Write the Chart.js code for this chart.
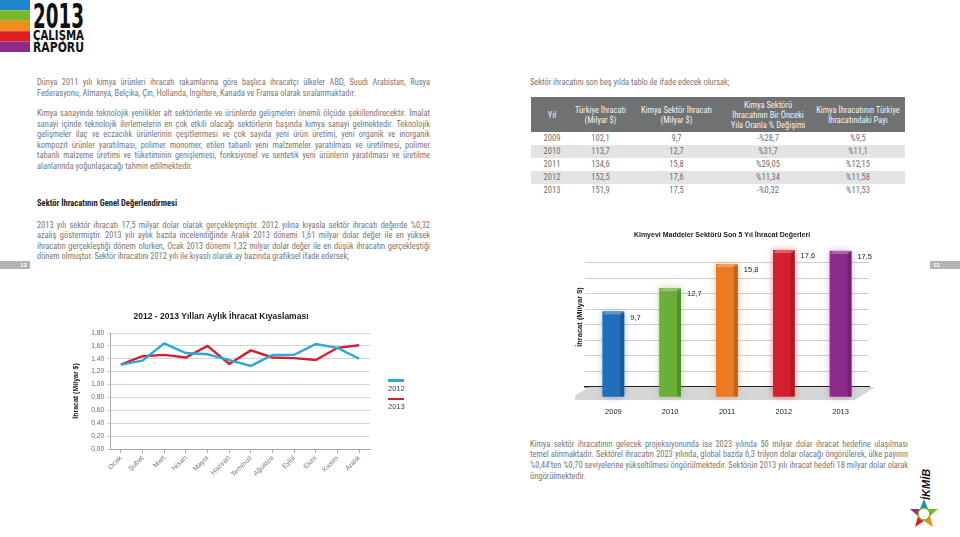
<!DOCTYPE html>
<html lang="tr">
<head>
<meta charset="utf-8">
<title>2013 Çalışma Raporu - Kimya</title>
<script src="https://cdn.jsdelivr.net/npm/chart.js@4.4.1/dist/chart.umd.min.js"></script>
<style>
  html, body { margin: 0; padding: 0; background: #fff; }
  body { width: 960px; height: 537px; position: relative; overflow: hidden;
         font-family: "Liberation Sans Narrow", "Roboto Condensed", "DejaVu Sans Condensed", sans-serif; }
  .abs { position: absolute; }
  .txt { font-size: 8.4px; line-height: 10.6px; color: #777; }
  .txt div { white-space: nowrap; text-align: justify; text-align-last: justify; }
  .txt div.last { text-align-last: left; }
  .heading { font-size: 8.5px; font-weight: bold; color: #222; }
  table { border-collapse: collapse; font-size: 8.5px; color: #707070; table-layout: fixed; }
  th { background: #707172; color: #f2f2f2; font-weight: normal; height: 35px; padding: 0; line-height: 10px; }
  td { text-align: center; height: 13px; padding: 0; line-height: 13px; }
  tr.alt td { background: #e4e4e4; }
  .tab { background: #b3b3b3; height: 8px; top: 261px; width: 30px; color: #fff;
         font: bold 6px "Liberation Sans", sans-serif; line-height: 8px; }
  .legend { font: 7.5px "Liberation Sans", sans-serif; color: #444; }
  .legend .ln { width: 16px; height: 2.5px; margin-bottom: 2px; }
  .legend .it { margin-bottom: 5px; }
</style>
</head>
<body>

<!-- header logo -->
<svg class="abs" style="left:0;top:0" width="90" height="56">
  <rect x="0" y="0" width="30" height="10.4" fill="#1f87c9"/>
  <rect x="0" y="10.4" width="30" height="10.4" fill="#79b829"/>
  <rect x="0" y="20.8" width="30" height="10.4" fill="#f18d1d"/>
  <rect x="0" y="31.2" width="30" height="10.4" fill="#df1b24"/>
  <rect x="0" y="41.6" width="30" height="10.4" fill="#8d2b8b"/>
  <g font-family="Liberation Sans Narrow, DejaVu Sans Condensed, sans-serif" font-weight="bold" fill="#111">
    <text x="33" y="28" font-size="34" textLength="51" lengthAdjust="spacingAndGlyphs">2013</text>
    <text x="33" y="40" font-size="14" textLength="51" lengthAdjust="spacingAndGlyphs">ÇALIŞMA</text>
    <text x="33" y="52" font-size="14" textLength="51" lengthAdjust="spacingAndGlyphs">RAPORU</text>
  </g>
</svg>

<!-- page tabs -->
<div class="abs tab" style="left:0;text-align:right"><span style="padding-right:3px">12</span></div>
<div class="abs tab" style="left:930px;text-align:left"><span style="padding-left:3px">13</span></div>

<!-- left column text -->
<div class="abs txt" style="left:37px;top:77.4px;width:393px">
  <div>Dünya 2011 yılı kimya ürünleri ihracatı rakamlarına göre başlıca ihracatçı ülkeler ABD, Suudi Arabistan, Rusya</div>
  <div class="last">Federasyonu, Almanya, Belçika, Çin, Hollanda, İngiltere, Kanada ve Fransa olarak sıralanmaktadır.</div>
</div>
<div class="abs txt" style="left:37px;top:108px;width:393px">
  <div>Kimya sanayinde teknolojik yenilikler alt sektörlerde ve ürünlerde gelişmeleri önemli ölçüde şekillendirecektir. İmalat</div>
  <div>sanayi içinde teknolojik ilerlemelerin en çok etkili olacağı sektörlerin başında kimya sanayi gelmektedir. Teknolojik</div>
  <div>gelişmeler ilaç ve eczacılık ürünlerinin çeşitlenmesi ve çok sayıda yeni ürün üretimi, yeni organik ve inorganik</div>
  <div>kompozit ürünler yaratılması, polimer monomer, etilen tabanlı yeni malzemeler yaratılması ve üretilmesi, polimer</div>
  <div>tabanlı malzeme üretimi ve tüketiminin genişlemesi, fonksiyonel ve sentetik yeni ürünlerin yaratılması ve üretilme</div>
  <div class="last">alanlarında yoğunlaşacağı tahmin edilmektedir.</div>
</div>
<div class="abs heading" style="left:37px;top:198px">Sektör İhracatının Genel Değerlendirmesi</div>
<div class="abs txt" style="left:37px;top:219.7px;width:393px">
  <div>2013 yılı sektör ihracatı 17,5 milyar dolar olarak gerçekleşmiştir. 2012 yılına kıyasla sektör ihracatı değerde %0,32</div>
  <div>azalış göstermiştir. 2013 yılı aylık bazda incelendiğinde Aralık 2013 dönemi 1,61 milyar dolar değer ile en yüksek</div>
  <div>ihracatın gerçekleştiği dönem olurken, Ocak 2013 dönemi 1,32 milyar dolar değer ile en düşük ihracatın gerçekleştiği</div>
  <div class="last">dönem olmuştur. Sektör ihracatını 2012 yılı ile kıyaslı olarak ay bazında grafiksel ifade edersek;</div>
</div>

<!-- right column text -->
<div class="abs txt" style="left:530px;top:77.4px;width:380px">
  <div class="last">Sektör ihracatını son beş yılda tablo ile ifade edecek olursak;</div>
</div>
<table class="abs" id="expTable" style="left:531px;top:97px;width:374px">
  <colgroup><col style="width:42px"><col style="width:55px"><col style="width:97px"><col style="width:86px"><col style="width:94px"></colgroup>
  <thead><tr>
    <th>Yıl</th>
    <th>Türkiye İhracatı<br>(Milyar $)</th>
    <th>Kimya Sektör İhracatı<br>(Milyar $)</th>
    <th>Kimya Sektörü<br>İhracatının Bir Önceki<br>Yıla Oranla % Değişimi</th>
    <th>Kimya İhracatının Türkiye<br>İhracatındaki Payı</th>
  </tr></thead>
  <tbody></tbody>
</table>
<div class="abs txt" style="left:530px;top:438.8px;width:378px">
  <div>Kimya sektör ihracatının gelecek projeksiyonunda ise 2023 yılında 50 milyar dolar ihracat hedefine ulaşılması</div>
  <div>temel alınmaktadır. Sektörel ihracatın 2023 yılında, global bazda 6,3 trilyon dolar olacağı öngörülerek, ülke payının</div>
  <div>%0,44'ten %0,70 seviyelerine yükseltilmesi öngörülmektedir. Sektörün 2013 yılı ihracat hedefi 18 milyar dolar olarak</div>
  <div class="last">öngörülmektedir.</div>
</div>

<!-- line chart -->
<div class="abs" style="left:72px;top:300px;width:342px;height:178px">
  <canvas id="monthlyChart"></canvas>
</div>
<div class="abs legend" id="monthlyLegend" style="left:388px;top:379px"></div>

<!-- bar chart -->
<div class="abs" style="left:575px;top:222px;width:310px;height:193px">
  <canvas id="yearlyChart"></canvas>
</div>

<!-- İKMİB logo -->
<svg class="abs" style="left:904px;top:466px" width="40" height="66">
  <text x="0" y="0" transform="translate(26,34) rotate(-90)" font-family="Liberation Sans, sans-serif"
        font-weight="bold" font-style="italic" font-size="11" fill="#111">İKMİB</text>
  <g transform="translate(20,48)">
    <polygon points="0,-15 4,-5 -4,-5" fill="#1f87c9"/>
    <polygon points="14,-5 6,2 4,-5" fill="#79b829"/>
    <polygon points="9,13 0,7 6,2" fill="#f18d1d"/>
    <polygon points="-9,13 -6,2 0,7" fill="#df1b24"/>
    <polygon points="-14,-5 -4,-5 -6,2" fill="#8d2b8b"/>
    <circle cx="0" cy="0" r="6" fill="#fff" stroke="#79b829" stroke-width="1.5"/>
  </g>
</svg>

<script>
const months = ['Ocak', 'Şubat', 'Mart', 'Nisan', 'Mayıs', 'Haziran', 'Temmuz', 'Ağustos', 'Eylül', 'Ekim', 'Kasım', 'Aralık'];
const exports2012 = [1.31, 1.37, 1.64, 1.49, 1.47, 1.38, 1.29, 1.46, 1.46, 1.63, 1.57, 1.40];
const exports2013 = [1.31, 1.44, 1.46, 1.42, 1.60, 1.32, 1.53, 1.42, 1.41, 1.38, 1.57, 1.61];

const years = ['2009', '2010', '2011', '2012', '2013'];
const turkeyExports = [102.1, 113.7, 134.6, 152.5, 151.9];
const sectorExports = [9.7, 12.7, 15.8, 17.6, 17.5];
const changePct = ['-%28,7', '%31,7', '%29,05', '%11,34', '-%0,32'];
const sharePct = ['%9,5', '%11,1', '%12,15', '%11,58', '%11,53'];

const barColors = ['#1f6fba', '#6cae3a', '#eb7a23', '#d3202f', '#8b2a8a'];
const barGlow = ['rgba(31,111,186,0.5)', 'rgba(108,174,58,0.5)', 'rgba(235,122,35,0.5)', 'rgba(211,32,47,0.5)', 'rgba(139,42,138,0.5)'];

function trNum(v, d) {
    return v.toFixed(d).replace('.', ',');
}

// table
const tbody = document.querySelector('#expTable tbody');
years.forEach((y, i) => {
    const tr = document.createElement('tr');
    if (i % 2 === 1) tr.className = 'alt';
    [y, trNum(turkeyExports[i], 1), trNum(sectorExports[i], 1), changePct[i], sharePct[i]].forEach(v => {
        const td = document.createElement('td');
        td.textContent = v;
        tr.appendChild(td);
    });
    tbody.appendChild(tr);
});

Chart.defaults.font.family = '"Liberation Sans", Arial, sans-serif';
Chart.defaults.animation = false;

// monthly line chart
const lineSets = [
    { label: '2012', data: exports2012, color: '#2ea7d9' },
    { label: '2013', data: exports2013, color: '#d0212f' }
];

new Chart(document.getElementById('monthlyChart').getContext('2d'), {
    type: 'line',
    data: {
        labels: months,
        datasets: lineSets.map(s => ({
            label: s.label,
            data: s.data,
            borderColor: s.color,
            backgroundColor: s.color,
            borderWidth: 2.4,
            pointRadius: 0,
            tension: 0,
            fill: false
        }))
    },
    options: {
        responsive: true,
        maintainAspectRatio: false,
        layout: { padding: { right: 44 } },
        plugins: {
            legend: { display: false },
            tooltip: { enabled: false },
            title: {
                display: true,
                text: '2012 - 2013 Yılları Aylık İhracat Kıyaslaması',
                color: '#1a1a1a',
                font: { size: 8.5, weight: 'bold' },
                padding: { top: 12, bottom: 10.8 }
            }
        },
        scales: {
            x: {
                offset: true,
                grid: { drawOnChartArea: false, tickLength: 4, color: '#aaa' },
                border: { color: '#aaa' },
                ticks: { minRotation: 45, maxRotation: 45, color: '#777', font: { size: 7 }, padding: 1 },
                afterFit: function(scale) { scale.height = 29; }
            },
            y: {
                min: 0,
                max: 1.8,
                ticks: {
                    stepSize: 0.2,
                    color: '#666',
                    font: { size: 6.5 },
                    padding: 3,
                    callback: function(value) { return trNum(value, 2); }
                },
                grid: { color: '#d4d4d4', tickLength: 3 },
                border: { color: '#aaa' },
                title: {
                    display: true,
                    text: 'İhracat (Milyar $)',
                    color: '#1a1a1a',
                    font: { size: 7, weight: 'bold' },
                    padding: 0
                },
                afterFit: function(scale) { scale.width = 38; }
            }
        }
    }
});

// html legend for the line chart
const legendBox = document.getElementById('monthlyLegend');
lineSets.forEach(s => {
    const it = document.createElement('div');
    it.className = 'it';
    it.innerHTML = '<div class="ln" style="background:' + s.color + '"></div><div>' + s.label + '</div>';
    legendBox.appendChild(it);
});

// yearly bar chart
const floorPlugin = {
    id: 'floor',
    beforeDatasetsDraw(chart) {
        const { ctx, chartArea } = chart;
        const b = chartArea.bottom;
        ctx.save();
        ctx.fillStyle = '#d6d6d6';
        ctx.beginPath();
        ctx.moveTo(chartArea.left + 4, b);
        ctx.lineTo(chartArea.right + 6, b);
        ctx.lineTo(chartArea.right - 14, b + 13);
        ctx.lineTo(chartArea.left - 17, b + 13);
        ctx.closePath();
        ctx.fill();

        // soft coloured glow behind each bar
        chart.getDatasetMeta(0).data.forEach((bar, i) => {
            ctx.shadowColor = barGlow[i];
            ctx.shadowBlur = 7;
            ctx.fillStyle = barColors[i];
            ctx.fillRect(bar.x - bar.width / 2, bar.y, bar.width, bar.base - bar.y + 10);
        });
        ctx.restore();
    }
};

const barDepthPlugin = {
    id: 'barDepth',
    afterDatasetsDraw(chart) {
        const ctx = chart.ctx;
        const meta = chart.getDatasetMeta(0);
        ctx.save();
        meta.data.forEach((bar, i) => {
            const l = bar.x - bar.width / 2, r = bar.x + bar.width / 2;
            // extend the bar slightly below the floor line
            ctx.fillStyle = barColors[i];
            ctx.fillRect(l, bar.base, bar.width, 10);
            // top cap
            ctx.fillStyle = 'rgba(255,255,255,0.28)';
            ctx.beginPath();
            ctx.moveTo(l, bar.y + 3);
            ctx.lineTo(l + 3, bar.y);
            ctx.lineTo(r, bar.y);
            ctx.lineTo(r - 3, bar.y + 3);
            ctx.closePath();
            ctx.fill();
            // right side shade
            ctx.fillStyle = 'rgba(0,0,0,0.18)';
            ctx.fillRect(r - 4, bar.y + 1, 4, bar.base - bar.y + 9);
        });

        ctx.fillStyle = '#222';
        ctx.font = '7.5px "Liberation Sans", Arial, sans-serif';
        ctx.textAlign = 'left';
        ctx.textBaseline = 'middle';
        meta.data.forEach((bar, i) => {
            ctx.fillText(trNum(sectorExports[i], 1), bar.x + bar.width / 2 + 6, bar.y + 6);
        });
        ctx.restore();
    }
};

new Chart(document.getElementById('yearlyChart').getContext('2d'), {
    type: 'bar',
    data: {
        labels: years,
        datasets: [{
            label: 'İhracat (Milyar $)',
            data: sectorExports,
            backgroundColor: barColors,
            borderWidth: 0,
            barPercentage: 0.38,
            categoryPercentage: 1
        }]
    },
    plugins: [floorPlugin, barDepthPlugin],
    options: {
        responsive: true,
        maintainAspectRatio: false,
        layout: { padding: { right: 16 } },
        plugins: {
            legend: { display: false },
            tooltip: { enabled: false },
            title: {
                display: true,
                text: 'Kimyevi Maddeler Sektörü Son 5 Yıl İhracat Değerleri',
                color: '#1a1a1a',
                font: { size: 7, weight: 'bold' },
                padding: { top: 9, bottom: 7.6 }
            }
        },
        scales: {
            x: {
                offset: true,
                grid: { display: false },
                border: { color: '#222', width: 1.5 },
                ticks: { color: '#222', font: { size: 7.5 }, padding: 12 },
                afterFit: function(scale) { scale.height = 28; }
            },
            y: {
                min: 0,
                max: 18,
                ticks: { display: false, stepSize: 2 },
                grid: {
                    drawTicks: false,
                    color: function(c) {
                        return (c.tick && (c.tick.value === 0 || c.tick.value === 18)) ? 'rgba(0,0,0,0)' : '#cfcfcf';
                    }
                },
                border: { display: false },
                title: {
                    display: true,
                    text: 'İhracat (Milyar $)',
                    color: '#1a1a1a',
                    font: { size: 7.5, weight: 'bold' },
                    padding: 0
                },
                afterFit: function(scale) { scale.width = 10; }
            }
        }
    }
});
</script>
</body>
</html>
